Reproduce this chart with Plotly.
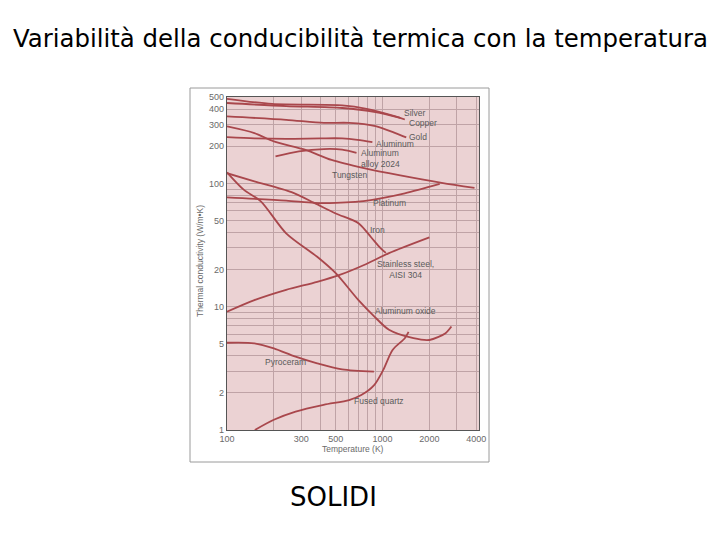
import math
import plotly.graph_objects as go

# ---------------- data ----------------
silver_T = [100, 240, 550, 900, 1300]
silver_k = [449, 424, 409, 379, 340]

copper_T = [100, 195, 550, 790, 1210, 1390]
copper_k = [486, 441, 430, 403, 350, 330]

gold_T = [100, 240, 420, 610, 900, 1210, 1420]
gold_k = [350, 328, 310, 310, 292, 256, 236]

aluminum_T = [100, 150, 240, 400, 550, 690, 860]
aluminum_k = [237, 232, 230, 232, 232, 226, 216]

alloy_T = [205, 290, 420, 550, 680]
alloy_k = [166, 182, 190, 188, 177]

tungsten_T = [100, 150, 200, 320, 470, 760, 1300, 2400, 3900]
tungsten_k = [290, 256, 219, 187, 155, 133, 116, 101, 92]

platinum_T = [100, 240, 364, 500, 840, 1390, 2330]
platinum_k = [77, 72.5, 69.5, 69.6, 73.3, 83, 99]

iron_T = [100, 150, 260, 364, 500, 700, 844, 970, 1050]
iron_k = [121, 104, 85, 69.5, 57, 47.6, 36.6, 29.9, 27.3]

aloxide_T = [100, 128, 165, 240, 380, 500, 700, 880, 1100, 1580, 2000, 2540, 2770]
aloxide_k = [123, 89, 71.6, 39.4, 25.4, 18.7, 11.3, 8.4, 6.5, 5.55, 5.37, 6.1, 6.9]

steel_T = [100, 150, 240, 380, 530, 760, 1100, 2000]
steel_k = [9.1, 11.3, 13.7, 15.9, 18.1, 21.8, 27.2, 36.5]

pyro_T = [100, 150, 200, 276, 380, 550, 880]
pyro_k = [5.1, 5.05, 4.6, 3.93, 3.47, 3.1, 2.97]

quartz_T = [151, 200, 276, 418, 610, 730, 880, 1010, 1160, 1390, 1470]
quartz_k = [1.0, 1.21, 1.41, 1.6, 1.75, 1.92, 2.3, 3.07, 4.46, 5.55, 6.25]

x_grid = [100, 200, 300, 400, 500, 600, 700, 800, 900, 1000, 2000, 3000, 4000]
x_labels = {100: "100", 300: "300", 500: "500", 1000: "1000", 2000: "2000", 4000: "4000"}
y_grid = [1, 2, 3, 4, 5, 6, 7, 8, 9, 10, 20, 30, 40, 50, 60, 70, 80, 90, 100, 200, 300, 400, 500]
y_labels = {1: "1", 2: "2", 5: "5", 10: "10", 20: "20", 50: "50", 100: "100",
            200: "200", 300: "300", 400: "400", 500: "500"}

# curve labels: (text, T, k, anchor)
curve_labels = [
    ("Silver", 1340, 372, "left"),
    ("Copper", 1440, 312, "left"),
    ("Gold", 1440, 238, "left"),
    ("Aluminum", 881, 209, "left"),
    ("Aluminum<br>alloy 2024", 702, 158, "left"),
    ("Tungsten", 460, 117, "left"),
    ("Platinum", 844, 69.4, "left"),
    ("Iron", 810, 41.9, "left"),
    ("Stainless steel,<br>AISI 304", 1414, 19.9, "center"),
    ("Aluminum oxide", 869, 9.23, "left"),
    ("Pyroceram", 170, 3.56, "left"),
    ("Fused quartz", 636, 1.72, "left"),
]

series = [
    (silver_T, silver_k), (copper_T, copper_k), (gold_T, gold_k),
    (aluminum_T, aluminum_k), (alloy_T, alloy_k), (tungsten_T, tungsten_k),
    (platinum_T, platinum_k), (iron_T, iron_k), (aloxide_T, aloxide_k),
    (steel_T, steel_k), (pyro_T, pyro_k), (quartz_T, quartz_k),
]

LINE = "#a9474c"
GRID = "#bfa3a6"
TXT = "#6a6a6a"

# the page body adds an 8px margin around the figure
OFF = 8
W, H = 720 - 2 * OFF, 540 - 2 * OFF


def px(x):
    return (x - OFF) / W


def py(y):
    return 1 - (y - OFF) / H


fig = go.Figure()
for T, k in series:
    fig.add_trace(go.Scatter(x=T, y=k, mode="lines",
                             line=dict(color=LINE, width=1.8, shape="spline", smoothing=0.8),
                             showlegend=False, hoverinfo="skip"))

fig.update_layout(
    width=W, height=H,
    margin=dict(l=0, r=0, t=0, b=0, pad=0, autoexpand=False),
    paper_bgcolor="white",
    plot_bgcolor="#ebd2d3",
    showlegend=False,
    font=dict(family="Liberation Sans, Arial, sans-serif", color=TXT),
)

fig.update_xaxes(
    type="log", range=[2, 3.62], domain=[px(227), px(479)], automargin=False,
    tickmode="array", tickvals=x_grid,
    ticktext=[x_labels.get(v, "") for v in x_grid],
    showgrid=True, gridcolor=GRID, gridwidth=1,
    showline=True, mirror=True, linecolor="#555", linewidth=1.2,
    ticks="", tickfont=dict(size=9, color=TXT), zeroline=False,
)
fig.update_yaxes(
    type="log", range=[0, 2.701], domain=[py(430), py(97)], automargin=False,
    tickmode="array", tickvals=y_grid,
    ticktext=[y_labels.get(v, "") for v in y_grid],
    showgrid=True, gridcolor=GRID, gridwidth=1,
    showline=True, mirror=True, linecolor="#555", linewidth=1.2,
    ticks="", tickfont=dict(size=9, color=TXT), zeroline=False,
)

# outer frame of the scanned figure
fig.add_shape(type="rect", xref="paper", yref="paper",
              x0=px(190), x1=px(489), y0=py(462), y1=py(88),
              line=dict(color="#9a9a9a", width=1), fillcolor="rgba(0,0,0,0)", layer="below")

# annotations on log axes take log10 positions
for text, T, k, anchor in curve_labels:
    fig.add_annotation(x=math.log10(T), y=math.log10(k), xref="x", yref="y", text=text,
                       showarrow=False, xanchor=anchor, yanchor="middle", align=anchor,
                       font=dict(size=8.5, color="#5a5a5a"))

# axis titles
fig.add_annotation(x=px(353), y=py(449), xref="paper", yref="paper",
                   text="Temperature (K)", showarrow=False,
                   xanchor="center", yanchor="middle",
                   font=dict(size=8.5, color=TXT))
fig.add_annotation(x=px(200), y=py(261), xref="paper", yref="paper",
                   text="Thermal conductivity (W/m•K)", textangle=-90, showarrow=False,
                   xanchor="center", yanchor="middle",
                   font=dict(size=8.5, color=TXT))

# slide title and caption
fig.add_annotation(x=px(360), y=py(38), xref="paper", yref="paper",
                   text="Variabilità della conducibilità termica con la temperatura",
                   showarrow=False, xanchor="center", yanchor="middle",
                   font=dict(family="DejaVu Sans", size=24.4, color="black"))
fig.add_annotation(x=px(333), y=py(497), xref="paper", yref="paper",
                   text="SOLIDI", showarrow=False, xanchor="center", yanchor="middle",
                   font=dict(family="DejaVu Sans", size=26, color="black"))

fig.write_html("out.html")
